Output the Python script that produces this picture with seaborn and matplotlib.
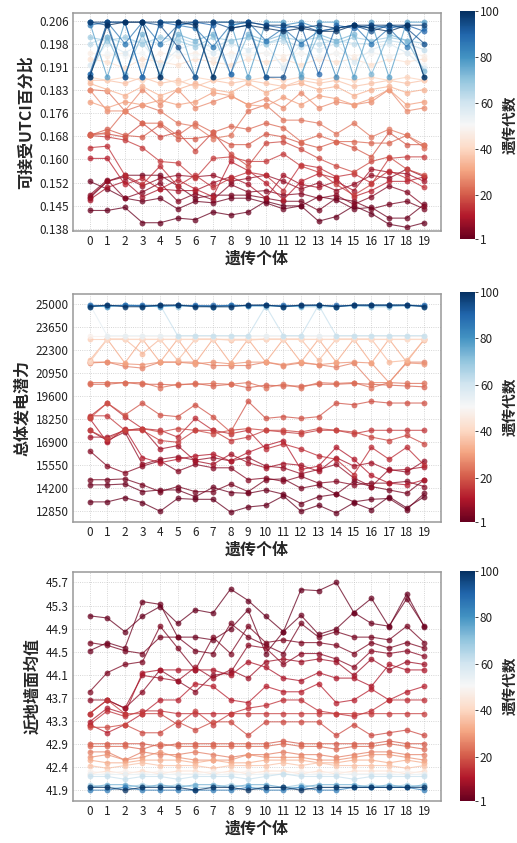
import numpy as np
import pandas as pd
import matplotlib
matplotlib.use("Agg")
import matplotlib.pyplot as plt
from matplotlib import colors, cm
import seaborn as sns

# 遗传个体 0-19, 每条线为一代
individuals = list(range(20))

# ---------------- 可接受UTCI百分比 ----------------
utci_gens = [1, 2, 3, 5, 7, 9, 12, 14, 16, 18, 20, 22, 24, 27, 30, 33, 36, 39,
             43, 47, 52, 58, 63, 68, 73, 78, 82, 86, 90, 94, 97, 100]
utci_vals = [
    [0.1440, 0.1440, 0.1450, 0.1400, 0.1400, 0.1415, 0.1410, 0.1435, 0.1425, 0.1435, 0.1470, 0.1455, 0.1455, 0.1405, 0.1420, 0.1455, 0.1430, 0.1395, 0.1385, 0.1400],
    [0.1535, 0.1510, 0.1480, 0.1470, 0.1480, 0.1445, 0.1470, 0.1465, 0.1480, 0.1480, 0.1465, 0.1445, 0.1455, 0.1485, 0.1475, 0.1445, 0.1450, 0.1415, 0.1415, 0.1460],
    [0.1480, 0.1535, 0.1555, 0.1555, 0.1555, 0.1520, 0.1480, 0.1490, 0.1490, 0.1490, 0.1480, 0.1470, 0.1470, 0.1440, 0.1480, 0.1470, 0.1445, 0.1460, 0.1470, 0.1445],
    [0.1490, 0.1540, 0.1480, 0.1500, 0.1530, 0.1470, 0.1495, 0.1475, 0.1525, 0.1500, 0.1505, 0.1490, 0.1495, 0.1480, 0.1490, 0.1460, 0.1485, 0.1520, 0.1500, 0.1455],
    [0.1485, 0.1535, 0.1550, 0.1520, 0.1545, 0.1555, 0.1550, 0.1555, 0.1535, 0.1545, 0.1555, 0.1535, 0.1510, 0.1530, 0.1505, 0.1525, 0.1555, 0.1545, 0.1575, 0.1550],
    [0.1475, 0.1515, 0.1535, 0.1485, 0.1510, 0.1505, 0.1505, 0.1530, 0.1550, 0.1525, 0.1480, 0.1555, 0.1525, 0.1515, 0.1535, 0.1505, 0.1575, 0.1565, 0.1560, 0.1535],
    [0.1610, 0.1610, 0.1525, 0.1545, 0.1510, 0.1540, 0.1510, 0.1485, 0.1600, 0.1570, 0.1530, 0.1475, 0.1535, 0.1560, 0.1545, 0.1485, 0.1505, 0.1535, 0.1535, 0.1550],
    [0.1645, 0.1650, 0.1555, 0.1525, 0.1585, 0.1520, 0.1555, 0.1515, 0.1545, 0.1565, 0.1555, 0.1505, 0.1590, 0.1580, 0.1550, 0.1560, 0.1530, 0.1570, 0.1545, 0.1515],
    [0.1685, 0.1680, 0.1670, 0.1645, 0.1600, 0.1595, 0.1545, 0.1610, 0.1615, 0.1600, 0.1600, 0.1625, 0.1585, 0.1565, 0.1525, 0.1490, 0.1525, 0.1610, 0.1615, 0.1615],
    [0.1690, 0.1690, 0.1680, 0.1725, 0.1680, 0.1695, 0.1635, 0.1695, 0.1625, 0.1585, 0.1660, 0.1665, 0.1640, 0.1610, 0.1585, 0.1565, 0.1600, 0.1615, 0.1575, 0.1555],
    [0.1685, 0.1705, 0.1685, 0.1680, 0.1720, 0.1675, 0.1675, 0.1685, 0.1655, 0.1655, 0.1690, 0.1680, 0.1660, 0.1645, 0.1665, 0.1645, 0.1615, 0.1695, 0.1655, 0.1655],
    [0.1685, 0.1695, 0.1765, 0.1725, 0.1725, 0.1685, 0.1725, 0.1695, 0.1715, 0.1705, 0.1725, 0.1710, 0.1665, 0.1685, 0.1665, 0.1665, 0.1660, 0.1660, 0.1685, 0.1645],
    [0.1835, 0.1830, 0.1765, 0.1785, 0.1765, 0.1725, 0.1715, 0.1675, 0.1685, 0.1765, 0.1785, 0.1735, 0.1735, 0.1725, 0.1690, 0.1725, 0.1680, 0.1705, 0.1685, 0.1655],
    [0.1835, 0.1765, 0.1765, 0.1835, 0.1785, 0.1835, 0.1775, 0.1795, 0.1815, 0.1785, 0.1805, 0.1775, 0.1825, 0.1775, 0.1795, 0.1785, 0.1795, 0.1835, 0.1765, 0.1775],
    [0.1795, 0.1775, 0.1795, 0.1785, 0.1800, 0.1785, 0.1795, 0.1825, 0.1815, 0.1785, 0.1780, 0.1810, 0.1785, 0.1815, 0.1805, 0.1785, 0.1805, 0.1835, 0.1785, 0.1795],
    [0.1855, 0.1835, 0.1815, 0.1845, 0.1815, 0.1835, 0.1855, 0.1835, 0.1825, 0.1855, 0.1825, 0.1845, 0.1855, 0.1835, 0.1845, 0.1815, 0.1835, 0.1845, 0.1825, 0.1835],
    [0.1865, 0.1865, 0.1855, 0.1875, 0.1855, 0.1865, 0.1845, 0.1865, 0.1855, 0.1865, 0.1855, 0.1845, 0.1865, 0.1855, 0.1865, 0.1845, 0.1855, 0.1865, 0.1855, 0.1865],
    [0.1875, 0.1865, 0.1875, 0.1865, 0.1875, 0.1855, 0.1875, 0.1865, 0.1875, 0.1865, 0.1875, 0.1865, 0.1875, 0.1865, 0.1875, 0.1865, 0.1875, 0.1865, 0.1875, 0.1865],
    [0.1935, 0.1925, 0.1905, 0.1935, 0.1925, 0.1915, 0.1935, 0.1925, 0.1915, 0.1935, 0.1925, 0.1935, 0.1915, 0.1935, 0.1925, 0.1935, 0.1915, 0.1935, 0.1925, 0.1935],
    [0.1955, 0.1945, 0.1955, 0.1915, 0.1955, 0.1945, 0.1955, 0.1935, 0.1955, 0.1945, 0.1955, 0.1945, 0.1955, 0.1935, 0.1955, 0.1945, 0.1955, 0.1945, 0.1955, 0.1945],
    [0.1915, 0.1955, 0.1945, 0.1955, 0.1895, 0.1955, 0.1945, 0.1955, 0.1945, 0.1955, 0.1955, 0.1915, 0.1955, 0.1945, 0.1955, 0.1885, 0.1955, 0.1945, 0.1955, 0.1915],
    [0.1915, 0.1985, 0.1955, 0.1985, 0.1915, 0.1965, 0.1985, 0.1955, 0.1985, 0.1965, 0.1985, 0.1905, 0.1985, 0.1965, 0.1985, 0.1925, 0.1965, 0.1985, 0.1955, 0.1905],
    [0.1985, 0.2005, 0.1985, 0.1995, 0.1985, 0.2005, 0.1985, 0.1975, 0.1995, 0.2005, 0.1985, 0.1995, 0.1975, 0.1985, 0.1995, 0.1985, 0.1985, 0.1995, 0.1985, 0.1965],
    [0.2005, 0.1995, 0.2005, 0.1985, 0.2005, 0.1995, 0.1975, 0.2005, 0.1995, 0.2005, 0.1985, 0.2005, 0.1995, 0.2005, 0.1985, 0.2005, 0.1995, 0.2005, 0.1995, 0.1985],
    [0.1885, 0.2005, 0.1885, 0.2015, 0.1885, 0.2015, 0.1995, 0.2015, 0.1885, 0.2015, 0.1995, 0.2015, 0.1885, 0.2015, 0.1995, 0.2015, 0.1885, 0.2015, 0.1995, 0.1895],
    [0.2055, 0.1875, 0.2055, 0.1875, 0.2055, 0.2055, 0.1875, 0.2055, 0.2055, 0.1875, 0.2055, 0.2055, 0.1875, 0.2055, 0.2055, 0.1875, 0.2055, 0.1875, 0.2055, 0.2055],
    [0.1875, 0.2055, 0.1875, 0.2055, 0.1875, 0.2045, 0.2055, 0.1875, 0.2045, 0.2055, 0.1875, 0.2045, 0.2055, 0.2035, 0.1875, 0.2045, 0.2035, 0.2045, 0.2035, 0.1875],
    [0.2045, 0.2055, 0.1985, 0.2055, 0.1985, 0.2045, 0.2035, 0.1975, 0.2045, 0.2055, 0.1995, 0.2035, 0.1985, 0.2025, 0.2035, 0.2045, 0.1985, 0.2035, 0.1975, 0.2035],
    [0.1885, 0.2055, 0.2055, 0.1875, 0.2055, 0.2045, 0.2055, 0.2045, 0.1885, 0.2055, 0.2045, 0.2035, 0.2045, 0.1885, 0.2045, 0.2035, 0.2045, 0.2035, 0.2045, 0.2025],
    [0.2055, 0.2045, 0.1875, 0.2055, 0.2045, 0.1975, 0.1875, 0.2055, 0.2035, 0.2045, 0.1875, 0.1875, 0.2045, 0.2025, 0.2035, 0.2045, 0.2025, 0.2045, 0.2035, 0.1985],
    [0.2055, 0.2055, 0.2055, 0.2055, 0.2055, 0.2055, 0.2055, 0.2055, 0.2055, 0.2055, 0.2045, 0.2045, 0.2035, 0.2045, 0.2035, 0.2045, 0.2045, 0.2045, 0.2045, 0.2045],
    [0.1875, 0.2045, 0.2055, 0.2055, 0.1875, 0.2055, 0.2045, 0.1875, 0.2035, 0.2045, 0.2035, 0.2025, 0.2035, 0.2025, 0.2025, 0.2045, 0.2035, 0.2025, 0.2045, 0.1875],
]
utci_ticklabels = ["0.138", "0.145", "0.152", "0.160", "0.168", "0.176", "0.183", "0.191", "0.198", "0.206"]

# ---------------- 总体发电潜力 ----------------
power_gens = [1, 2, 3, 5, 7, 9, 11, 13, 15, 17, 19, 21, 23, 25, 28, 31, 34, 38,
              42, 48, 55, 62, 70, 80, 90, 100]
power_vals = [
    [13400, 13400, 13650, 13350, 12850, 13600, 13550, 13550, 12800, 13100, 13200, 13750, 12850, 13200, 12750, 13350, 12950, 13700, 13050, 13700],
    [14400, 14400, 14450, 14000, 14100, 14100, 13700, 14250, 13950, 13900, 14100, 13850, 13300, 13700, 13850, 13400, 13550, 13600, 12950, 13900],
    [14700, 14700, 14750, 14400, 14000, 14300, 14000, 14000, 14450, 14000, 14700, 14750, 14200, 14400, 13850, 14600, 14300, 14100, 13900, 14700],
    [16400, 15500, 15100, 15500, 15800, 15200, 15600, 15400, 15400, 14700, 14800, 14600, 14900, 14500, 14600, 14400, 14500, 14500, 14600, 14300],
    [17600, 17000, 17500, 15600, 15900, 16050, 15850, 16000, 15800, 16000, 15500, 15400, 15050, 15300, 15600, 14800, 14300, 15300, 15150, 15800],
    [17200, 17200, 17600, 17700, 16500, 16700, 15800, 15600, 16200, 15700, 15400, 15650, 15550, 15200, 16000, 15500, 15700, 15250, 15300, 15450],
    [18300, 16900, 17700, 16000, 15700, 15900, 16100, 16200, 15800, 16300, 16700, 17000, 15300, 15500, 16600, 15900, 14950, 14500, 14400, 14700],
    [18400, 19200, 18400, 17700, 17600, 17200, 18300, 17600, 17400, 17600, 16500, 16800, 16500, 16100, 15900, 15000, 16600, 15900, 16600, 15550],
    [18450, 18450, 17600, 17600, 17000, 16900, 17600, 17600, 17000, 17200, 17600, 17500, 17400, 17600, 17600, 17400, 17600, 17600, 17600, 17600],
    [17600, 17100, 17600, 17700, 17500, 17700, 17600, 17400, 17600, 17700, 17600, 17600, 17500, 17700, 17600, 17500, 17200, 17000, 17300, 16800],
    [18300, 19200, 18500, 19200, 18500, 18400, 19100, 18400, 17500, 19300, 18300, 18400, 18300, 18400, 19200, 19100, 19300, 19200, 19200, 19200],
    [20300, 20300, 20400, 20300, 20300, 20250, 20350, 20200, 20300, 20100, 20250, 20200, 20200, 20300, 20300, 20350, 20300, 20250, 20200, 20150],
    [20400, 20400, 20400, 20400, 20100, 20300, 20300, 20350, 20300, 20400, 20100, 20300, 20100, 20400, 20350, 20400, 20100, 20400, 20350, 20350],
    [21550, 21600, 21350, 21250, 21600, 21600, 21600, 21400, 21400, 21400, 21600, 21400, 21550, 21450, 21300, 21550, 20400, 20400, 21600, 21600],
    [21600, 21600, 21500, 21450, 21600, 21600, 21500, 21600, 21500, 21600, 21600, 21450, 21600, 21450, 21550, 21600, 21550, 20400, 21550, 21500],
    [21600, 22950, 21550, 22950, 21600, 22950, 21550, 22950, 21550, 22950, 21600, 22950, 21600, 22950, 21600, 22950, 21550, 22950, 21600, 22950],
    [21700, 22950, 22950, 22100, 22950, 21700, 22950, 22950, 22900, 22900, 22950, 22950, 22950, 21700, 22950, 22950, 22950, 21600, 21700, 22900],
    [22950, 22950, 22950, 22950, 22950, 22950, 22950, 22950, 22950, 22950, 22950, 22950, 22950, 22950, 22950, 22950, 22950, 22950, 22950, 22950],
    [21600, 22950, 22950, 22950, 22950, 22950, 22950, 22950, 22950, 22950, 22950, 22950, 22950, 22950, 22950, 22950, 22950, 22950, 22950, 22950],
    [23150, 23150, 23150, 23150, 23150, 23150, 23150, 23150, 23150, 23150, 23150, 23150, 23150, 23150, 23150, 23150, 23150, 23150, 23150, 23150],
    [25000, 23150, 23150, 23150, 23150, 23150, 23150, 23150, 23150, 23150, 23150, 23150, 23150, 23150, 23150, 23150, 23150, 23150, 23150, 23150],
    [24950, 24900, 24950, 24950, 24950, 23150, 23150, 23150, 23150, 23150, 24900, 23150, 23150, 24950, 23150, 23150, 23150, 23150, 23150, 23150],
    [24850, 24900, 24900, 24850, 24900, 24850, 24900, 24850, 24850, 24900, 24850, 24900, 24850, 24850, 24850, 24900, 24850, 24850, 24900, 24850],
    [24900, 24850, 24950, 24900, 24850, 24950, 24900, 24850, 24950, 24900, 24950, 24850, 24900, 24950, 24850, 24950, 24950, 24950, 24950, 24900],
    [24950, 24950, 24950, 24950, 24950, 24950, 24950, 24950, 24950, 24950, 24950, 24950, 24950, 24950, 24950, 24950, 24950, 24950, 24950, 24950],
    [24850, 24950, 24850, 24850, 24950, 24950, 24850, 24850, 24850, 24950, 24950, 24850, 24950, 24950, 24850, 24950, 24950, 24950, 24950, 24850],
]
power_ticklabels = ["12850", "14200", "15550", "16900", "18250", "19600", "20950", "22300", "23650", "25000"]

# ---------------- 近地墙面均值 ----------------
wall_gens = [1, 2, 3, 4, 6, 8, 10, 12, 14, 16, 18, 20, 22, 25, 28, 32, 36,
             42, 48, 55, 62, 68, 75, 85, 100]
wall_vals = [
    [45.09, 45.05, 44.80, 45.08, 45.26, 44.95, 45.20, 45.14, 45.58, 45.37, 45.08, 44.80, 45.57, 45.55, 45.70, 45.15, 45.41, 44.89, 45.49, 44.89],
    [44.45, 44.60, 44.50, 45.35, 45.30, 44.70, 44.70, 44.65, 44.85, 45.20, 44.40, 44.80, 45.10, 44.75, 44.85, 45.15, 44.95, 44.90, 45.40, 44.90],
    [44.60, 44.55, 44.45, 44.40, 44.70, 44.70, 44.45, 44.40, 44.95, 44.70, 44.55, 44.40, 44.95, 44.70, 44.80, 44.70, 44.70, 44.65, 44.90, 44.60],
    [43.70, 44.05, 44.20, 44.25, 44.90, 44.50, 44.10, 44.70, 44.40, 44.90, 44.60, 44.65, 44.60, 44.60, 44.55, 44.40, 44.60, 44.50, 44.60, 44.50],
    [43.55, 43.55, 43.40, 43.70, 44.10, 43.90, 43.70, 44.00, 44.05, 44.55, 44.50, 44.20, 44.40, 44.40, 44.30, 44.15, 44.45, 44.40, 44.45, 44.35],
    [43.30, 43.55, 43.40, 44.00, 43.95, 43.90, 44.15, 43.95, 44.10, 43.95, 44.25, 44.30, 44.25, 44.30, 44.25, 44.00, 44.30, 44.10, 44.25, 44.20],
    [43.15, 43.40, 43.30, 44.05, 44.10, 44.10, 44.10, 44.10, 44.00, 44.25, 44.15, 43.95, 43.90, 44.05, 43.95, 43.95, 43.80, 44.20, 44.10, 44.10],
    [43.10, 42.95, 43.10, 43.30, 43.55, 43.55, 43.85, 43.80, 43.55, 43.50, 43.80, 43.70, 43.70, 43.85, 43.50, 43.55, 43.75, 43.55, 43.70, 43.80],
    [43.10, 43.35, 43.25, 43.35, 43.35, 43.30, 43.30, 43.30, 43.30, 43.40, 43.45, 43.55, 43.55, 43.35, 43.30, 43.25, 43.35, 43.55, 43.55, 43.55],
    [43.30, 43.55, 43.30, 43.30, 43.30, 43.10, 43.35, 43.10, 43.30, 43.30, 43.30, 43.30, 43.30, 43.30, 43.30, 43.30, 43.30, 43.30, 43.30, 43.30],
    [43.05, 43.05, 43.10, 42.95, 42.95, 43.15, 43.00, 43.15, 43.15, 42.90, 43.15, 43.15, 43.15, 43.15, 42.90, 43.10, 42.90, 42.95, 43.00, 42.90],
    [42.75, 42.75, 42.75, 42.75, 42.70, 42.75, 42.75, 42.75, 42.75, 42.75, 42.75, 42.80, 42.75, 42.75, 42.75, 42.75, 42.75, 42.80, 42.75, 42.75],
    [42.70, 42.70, 42.70, 42.65, 42.75, 42.70, 42.70, 42.70, 42.70, 42.70, 42.70, 42.75, 42.70, 42.70, 42.65, 42.70, 42.70, 42.75, 42.70, 42.65],
    [42.60, 42.60, 42.45, 42.60, 42.55, 42.55, 42.60, 42.55, 42.50, 42.55, 42.55, 42.60, 42.55, 42.55, 42.50, 42.55, 42.60, 42.60, 42.55, 42.55],
    [42.50, 42.55, 42.45, 42.50, 42.60, 42.50, 42.45, 42.45, 42.45, 42.55, 42.50, 42.50, 42.50, 42.45, 42.45, 42.50, 42.55, 42.55, 42.50, 42.45],
    [42.45, 42.40, 42.40, 42.45, 42.45, 42.45, 42.40, 42.45, 42.40, 42.40, 42.45, 42.45, 42.45, 42.40, 42.40, 42.45, 42.45, 42.40, 42.45, 42.40],
    [42.35, 42.30, 42.35, 42.40, 42.35, 42.35, 42.35, 42.30, 42.35, 42.35, 42.35, 42.40, 42.35, 42.40, 42.35, 42.35, 42.35, 42.35, 42.30, 42.35],
    [42.20, 42.25, 42.20, 42.25, 42.20, 42.25, 42.25, 42.20, 42.25, 42.20, 42.25, 42.25, 42.20, 42.25, 42.20, 42.25, 42.25, 42.25, 42.20, 42.25],
    [42.25, 42.20, 42.25, 42.20, 42.25, 42.20, 42.20, 42.25, 42.20, 42.25, 42.20, 42.20, 42.25, 42.20, 42.25, 42.20, 42.20, 42.20, 42.25, 42.20],
    [42.20, 42.20, 42.20, 42.20, 42.20, 42.20, 42.20, 42.20, 42.20, 42.20, 42.20, 42.20, 42.20, 42.20, 42.20, 42.20, 42.20, 42.20, 42.20, 42.20],
    [42.15, 42.15, 42.10, 42.15, 42.15, 42.10, 42.15, 42.15, 42.15, 42.10, 42.15, 42.20, 42.15, 42.15, 42.15, 42.10, 42.15, 42.15, 42.15, 42.15],
    [42.00, 41.95, 41.95, 42.00, 41.95, 42.00, 41.95, 41.95, 42.00, 41.95, 41.95, 41.95, 42.00, 41.95, 41.95, 41.95, 42.00, 41.95, 42.00, 41.95],
    [41.95, 42.00, 42.00, 41.95, 42.00, 41.95, 42.00, 42.00, 41.95, 42.00, 42.00, 41.95, 41.95, 42.00, 42.00, 42.00, 41.95, 42.00, 41.95, 42.00],
    [41.90, 41.90, 41.95, 41.90, 41.90, 41.90, 41.90, 41.90, 41.90, 41.95, 41.90, 41.90, 41.95, 41.90, 41.90, 41.95, 41.95, 41.95, 41.95, 41.90],
    [41.95, 41.95, 41.90, 41.95, 41.95, 41.95, 41.90, 41.95, 41.95, 41.90, 41.95, 41.95, 41.90, 41.95, 41.95, 41.95, 41.95, 41.95, 41.95, 41.95],
]
wall_ticklabels = ["41.9", "42.4", "42.9", "43.3", "43.7", "44.1", "44.5", "44.9", "45.3", "45.7"]

cbar_ticks = [1, 20, 40, 60, 80, 100]

#%%
sns.set_style("whitegrid", {"grid.color": "#c8c8c8", "grid.linestyle": ":",
                            "axes.edgecolor": "#999999"})
plt.rcParams["font.family"] = ["Noto Sans CJK SC", "DejaVu Sans"]
plt.rcParams["axes.unicode_minus"] = False

norm = colors.Normalize(vmin=1, vmax=100)

fig = plt.figure(figsize=(5.17, 8.43), dpi=100)

panels = [
    (utci_gens, utci_vals, "可接受UTCI百分比", utci_ticklabels, (0.138, 0.206), (0.1373, 0.2086),
     [0.141, 0.726, 0.712, 0.259], [0.890, 0.7165, 0.029, 0.270]),
    (power_gens, power_vals, "总体发电潜力", power_ticklabels, (12850, 25000), (12230, 25585),
     [0.141, 0.381, 0.712, 0.270], [0.890, 0.381, 0.029, 0.273]),
    (wall_gens, wall_vals, "近地墙面均值", wall_ticklabels, (41.9, 45.7), (41.704, 45.90),
     [0.141, 0.050, 0.712, 0.272], [0.890, 0.050, 0.029, 0.273]),
]

for gens, vals, ylabel, ticklabels, tick_range, ylim, ax_pos, cax_pos in panels:
    rows = []
    for g, row in zip(gens, vals):
        assert len(row) == 20, (ylabel, g)
        for i, v in zip(individuals, row):
            rows.append((g, i, v))
    df = pd.DataFrame(rows, columns=["代数", "个体", "值"])

    ax = fig.add_axes(ax_pos)
    sns.lineplot(data=df, x="个体", y="值", hue="代数", palette="RdBu", hue_norm=norm,
                 estimator=None, sort=False, marker="o", markersize=4.2,
                 markeredgewidth=0, linewidth=0.8, alpha=0.75, legend=False, ax=ax)

    ax.set_xticks(individuals)
    ax.set_xlim(-0.95, 19.95)
    ax.set_yticks(np.linspace(tick_range[0], tick_range[1], 10))
    ax.set_yticklabels(ticklabels)
    ax.set_ylim(*ylim)
    ax.tick_params(labelsize=8.5, colors="#222222", length=0, pad=3)
    ax.set_xlabel("遗传个体", fontsize=11.5, fontweight="bold", labelpad=2)
    ax.set_ylabel(ylabel, fontsize=11.5, fontweight="bold", labelpad=4)
    ax.grid(True, linewidth=0.6)
    for s in ax.spines.values():
        s.set_linewidth(1.1)

    cax = fig.add_axes(cax_pos)
    sm = cm.ScalarMappable(norm=norm, cmap="RdBu")
    cb = fig.colorbar(sm, cax=cax, ticks=cbar_ticks)
    cb.outline.set_visible(False)
    cb.ax.tick_params(labelsize=8.5, length=2, width=0.6, pad=1.5, colors="#222222")
    cb.set_label("遗传代数", fontsize=10.5, fontweight="bold", labelpad=1)

fig.savefig("out.png", dpi=100)
